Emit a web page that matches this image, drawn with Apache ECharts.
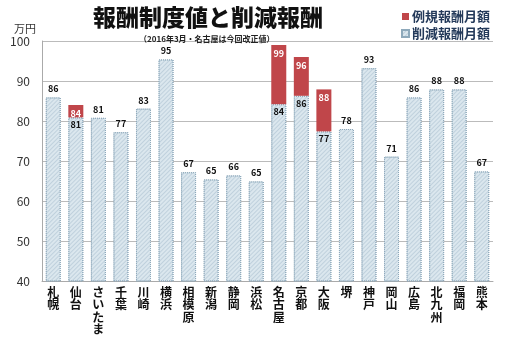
<!DOCTYPE html>
<html><head><meta charset="utf-8">
<script src="https://cdn.jsdelivr.net/npm/echarts@6/dist/echarts.min.js"></script>
<style>html,body{margin:0;padding:0;background:#fff}#c{width:520px;height:340px}</style>
</head><body><div id="c"></div>
<script>
var categories = ['札幌','仙台','さいたま','千葉','川崎','横浜','相模原','新潟','静岡','浜松','名古屋','京都','大阪','堺','神戸','岡山','広島','北九州','福岡','熊本'];
// 削減報酬月額 (万円)
var reducedValues = [85.9, 80.9, 80.8, 77.2, 83.1, 95.4, 67.2, 65.4, 66.4, 64.9, 84.2, 86.3, 77.4, 78.0, 93.2, 71.1, 85.9, 87.9, 87.9, 67.4];
// 例規報酬月額 (万円) — only where it differs
var regularValues = [null, 84.0, null, null, null, null, null, null, null, null, 99.0, 96.0, 87.9, null, null, null, null, null, null, null];
var yTicks = {min: 40, max: 100, interval: 10};

var diffValues = regularValues.map(function(v, i){ return v == null ? null : +(v - reducedValues[i]).toFixed(2); });

var chart = echarts.init(document.getElementById('c'));
var FONT = '"Noto Sans CJK JP", "Noto Sans", sans-serif';
var lightData = reducedValues.map(function(v, i){
  var hasRed = regularValues[i] != null;
  return {value: v, label: hasRed ? {position: 'insideTop', distance: 3} : {position: 'top', distance: 4}};
});
chart.setOption({
  animation: false,
  textStyle: {fontFamily: FONT},
  title: [
    {text: '報酬制度値と削減報酬', left: 88, top: 1, textStyle: {fontSize: 23, fontWeight: 900, color: '#111', fontFamily: FONT}},
    {text: '（2016年3月・名古屋は今回改正値）', left: 134, top: 30, textStyle: {fontSize: 8, fontWeight: 'bold', color: '#222', fontFamily: FONT}}
  ],
  graphic: [
    {type: 'text', left: 14, top: 23, style: {text: '万円', fontSize: 11, fill: '#333', fontFamily: FONT}}
  ],
  legend: {
    orient: 'vertical', left: 396, top: 5, itemWidth: 7, itemHeight: 7, itemGap: 4, icon: 'rect',
    data: ['例規報酬月額', '削減報酬月額'],
    textStyle: {fontSize: 13, fontWeight: 'bold', color: '#243a5a', fontFamily: FONT, padding: [0,0,0,-2]}
  },
  grid: {left: 42, right: 27, top: 41, bottom: 59},
  xAxis: {
    type: 'category', data: categories,
    axisLine: {lineStyle: {color: '#aaa'}},
    axisTick: {show: false},
    axisLabel: {
      interval: 0, margin: 5, fontSize: 12, fontWeight: 'bold', color: '#111', lineHeight: 12.5,
      verticalAlign: 'top',
      formatter: function(v){ return v.split('').join('\n'); }
    }
  },
  yAxis: {
    type: 'value', min: yTicks.min, max: yTicks.max, interval: yTicks.interval,
    axisLine: {show: true, lineStyle: {color: '#aaa'}},
    axisTick: {show: false},
    axisLabel: {fontSize: 12, color: '#333', margin: 12},
    splitLine: {lineStyle: {color: '#bbb'}}
  },
  series: [
    {
      name: '削減報酬月額', type: 'bar', stack: 's', barWidth: 15,
      data: lightData,
      itemStyle: {
        color: '#dbe7ee', borderColor: '#8ea9bb', borderWidth: 1, borderType: 'dotted',
        decal: {symbol: 'rect', symbolSize: 1, dashArrayX: [[1, 0]], dashArrayY: [1, 2], rotation: -Math.PI/4, color: 'rgba(150,175,195,0.4)'}
      },
      label: {show: true, fontSize: 9, fontWeight: 'bold', color: '#111',
        formatter: function(p){ return Math.round(p.value); }}
    },
    {
      name: '例規報酬月額', type: 'bar', stack: 's', barWidth: 15,
      data: diffValues,
      itemStyle: {color: '#c0464a'},
      label: {show: true, position: 'insideTop', distance: 4, fontSize: 9, fontWeight: 'bold', color: '#fff',
        formatter: function(p){ return p.value == null ? '' : Math.round(regularValues[p.dataIndex]); }}
    }
  ]
});
</script>
</body></html>
